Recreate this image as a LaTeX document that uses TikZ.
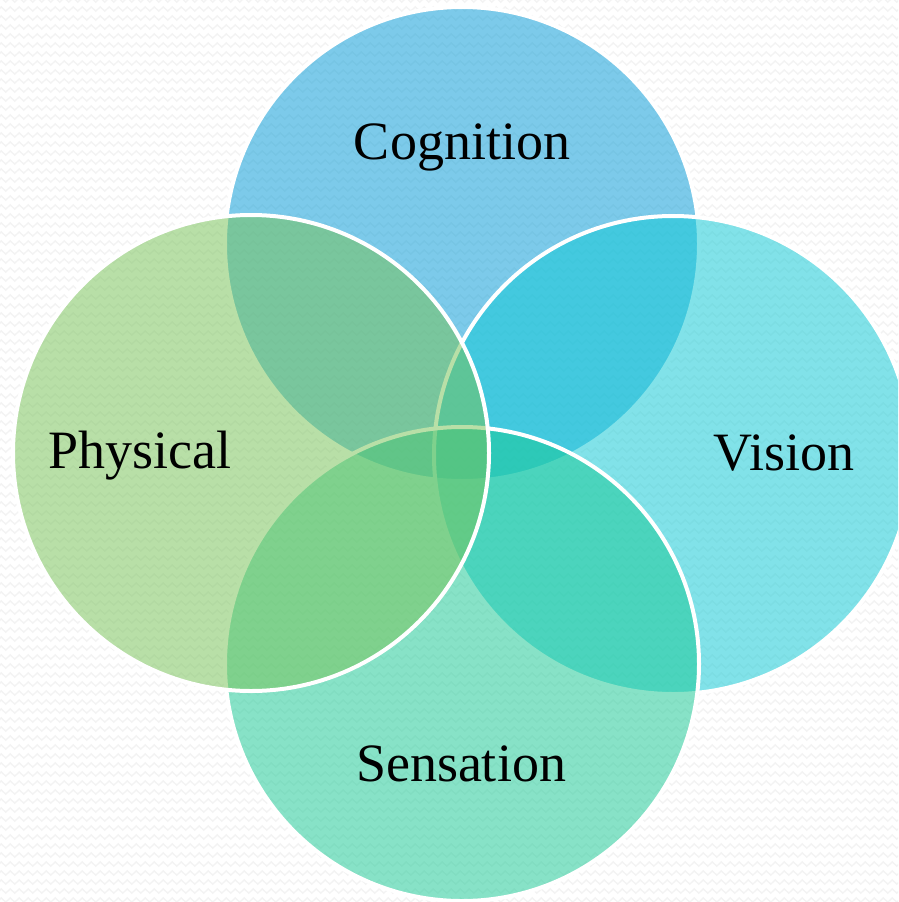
\documentclass[tikz,border=0pt]{standalone}
\usepackage{fontspec}
\setmainfont{Liberation Serif}
\usetikzlibrary{decorations.pathmorphing}

\definecolor{cogfill}{RGB}{5,155,215}
\definecolor{visfill}{RGB}{15,201,213}
\definecolor{sensfill}{RGB}{26,201,149}
\definecolor{physfill}{RGB}{120,195,88}
\definecolor{zigzagline}{RGB}{243,243,243}

\tikzset{
  disc/.style={circle, draw=white, line width=4pt, fill opacity=0.52,
    inner sep=0pt, minimum size=#1},
  label/.style={font=\fontsize{54}{60}\selectfont, text=black, anchor=base,
    inner sep=0pt},
  zz/.style={draw=zigzagline, line width=1.4pt,
    decorate, decoration={zigzag, segment length=9pt, amplitude=2.2pt}}
}

\begin{document}
\begin{tikzpicture}[x=1pt, y=-1pt]
  \useasboundingbox (0,0) rectangle (898,902);
  \clip (0,0) rectangle (898,902);
  \fill[white] (0,0) rectangle (898,902);

  % faint zigzag texture of the backdrop
  \foreach \row in {0,...,101} {
    \draw[zz] (-10,{\row*9}) -- (910,{\row*9});
  }

  % the four overlapping discs, back to front
  \node[disc=474pt, fill=cogfill]  (cognition) at (462,244) {};
  \node[disc=478pt, fill=visfill]  (vision)    at (673,455) {};
  \node[disc=474pt, fill=sensfill] (sensation) at (462,664) {};
  \node[disc=476pt, fill=physfill] (physical)  at (251,453) {};

  % labels
  \node[label] (tcog)  at (462,159) {Cognition};
  \node[label] (tphys) at (140,468) {Physical};
  \node[label] (tvis)  at (784,470) {Vision};
  \node[label] (tsens) at (461,781) {Sensation};
\end{tikzpicture}
\end{document}
